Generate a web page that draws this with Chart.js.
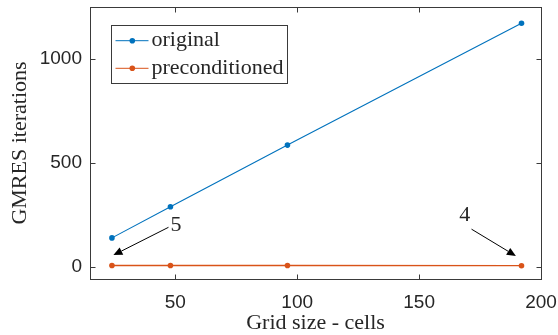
<!DOCTYPE html>
<html><head><meta charset="utf-8">
<script src="https://cdn.jsdelivr.net/npm/chart.js@4"></script>
<style>html,body{margin:0;padding:0;background:#fff}#wrap{width:558px;height:335px}</style>
</head><body><div id="wrap"><canvas id="c" width="558" height="335"></canvas></div>
<script>
// ---- data ----
const gridSizes = [24, 48, 96, 192];
const originalIters = [138, 288, 585, 1172];
const precondIters = [5, 5, 5, 4];
const xTickValues = [50, 100, 150, 200];
const yTickValues = [0, 500, 1000];
const seriesNames = ['original', 'preconditioned'];
const annotationTexts = ['5', '4'];

// ---- annotation geometry (data coordinates) ----
const annotations = [
  { text: annotationTexts[0], tx: 48, ty: 200, align: 'left', from: [47.2, 189], to: [24.6, 55] },
  { text: annotationTexts[1], tx: 171, ty: 248, align: 'right', from: [171.5, 180], to: [189.7, 51] }
];

const BLUE = '#0072BD', ORANGE = '#D95319', AX = '#262626';
const SERIF = '"Liberation Serif", "Times New Roman", serif';
const SANS = '"Liberation Sans", Arial, sans-serif';

const framePlugin = {
  id: 'frame',
  afterDraw(chart) {
    const { ctx, chartArea: a, scales: { x, y } } = chart;
    ctx.save();
    const L = Math.round(a.left) + 0.5, R = Math.round(a.right) + 0.5;
    const T = Math.round(a.top) + 0.5, B = Math.round(a.bottom) + 0.5;
    ctx.strokeStyle = '#3a3a3a'; ctx.lineWidth = 1;
    ctx.strokeRect(L, T, R - L, B - T);
    ctx.beginPath();
    xTickValues.forEach(v => {
      const p = Math.round(x.getPixelForValue(v)) + 0.5;
      ctx.moveTo(p, B); ctx.lineTo(p, B - 5);
      ctx.moveTo(p, T); ctx.lineTo(p, T + 5);
    });
    yTickValues.forEach(v => {
      const p = Math.round(y.getPixelForValue(v)) + 0.5;
      ctx.moveTo(L, p); ctx.lineTo(L + 5, p);
      ctx.moveTo(R, p); ctx.lineTo(R - 5, p);
    });
    ctx.stroke();

    // axis titles
    ctx.fillStyle = AX;
    ctx.font = '22px ' + SERIF;
    ctx.textAlign = 'center'; ctx.textBaseline = 'middle';
    ctx.fillText('Grid size - cells', (a.left + a.right) / 2, 323);
    ctx.save();
    ctx.translate(20, (a.top + a.bottom) / 2);
    ctx.rotate(-Math.PI / 2);
    ctx.fillText('GMRES iterations', 0, 0);
    ctx.restore();

    // legend
    const lx = 111.5, ly = 25.5, lw = 176, lh = 58;
    ctx.fillStyle = '#fff';
    ctx.fillRect(lx, ly, lw, lh);
    ctx.strokeStyle = '#3a3a3a';
    ctx.strokeRect(lx, ly, lw, lh);
    const rows = [[seriesNames[0], BLUE, 40.7], [seriesNames[1], ORANGE, 68.3]];
    rows.forEach(([name, col, ry]) => {
      ctx.strokeStyle = col; ctx.lineWidth = 1;
      ctx.beginPath(); ctx.moveTo(115.5, ry); ctx.lineTo(148.5, ry); ctx.stroke();
      ctx.fillStyle = col;
      ctx.beginPath(); ctx.arc(132.3, ry, 2.8, 0, Math.PI * 2); ctx.fill();
      ctx.fillStyle = AX;
      ctx.font = '22px ' + SERIF;
      ctx.textAlign = 'left'; ctx.textBaseline = 'middle';
      ctx.fillText(name, 151.5, ry);
    });

    // annotations
    annotations.forEach(an => {
      const x1 = x.getPixelForValue(an.from[0]), y1 = y.getPixelForValue(an.from[1]);
      const x2 = x.getPixelForValue(an.to[0]), y2 = y.getPixelForValue(an.to[1]);
      const ang = Math.atan2(y2 - y1, x2 - x1);
      const hl = 9, hw = 4;
      const bx = x2 - hl * Math.cos(ang), by = y2 - hl * Math.sin(ang);
      ctx.strokeStyle = '#000'; ctx.lineWidth = 1;
      ctx.beginPath(); ctx.moveTo(x1, y1); ctx.lineTo(bx, by); ctx.stroke();
      ctx.fillStyle = '#000';
      ctx.beginPath();
      ctx.moveTo(x2, y2);
      ctx.lineTo(bx + hw * Math.sin(ang), by - hw * Math.cos(ang));
      ctx.lineTo(bx - hw * Math.sin(ang), by + hw * Math.cos(ang));
      ctx.closePath(); ctx.fill();
      ctx.fillStyle = AX;
      ctx.font = '22px ' + SERIF;
      ctx.textAlign = an.align; ctx.textBaseline = 'middle';
      ctx.fillText(an.text, x.getPixelForValue(an.tx), y.getPixelForValue(an.ty));
    });
    ctx.restore();
  }
};

new Chart(document.getElementById('c'), {
  type: 'scatter',
  data: {
    datasets: [
      { label: seriesNames[0], data: gridSizes.map((g, i) => ({ x: g, y: originalIters[i] })),
        showLine: true, borderColor: BLUE, backgroundColor: BLUE, borderWidth: 1.1,
        pointRadius: 2.8, pointBorderWidth: 0, pointBackgroundColor: BLUE },
      { label: seriesNames[1], data: gridSizes.map((g, i) => ({ x: g, y: precondIters[i] })),
        showLine: true, borderColor: ORANGE, backgroundColor: ORANGE, borderWidth: 1.3,
        pointRadius: 2.8, pointBorderWidth: 0, pointBackgroundColor: ORANGE }
    ]
  },
  options: {
    responsive: false, animation: false, devicePixelRatio: 1,
    layout: { padding: { top: 7, right: 17, left: 0, bottom: 0 } },
    plugins: { legend: { display: false }, tooltip: { enabled: false } },
    scales: {
      x: {
        type: 'linear', min: 15, max: 200,
        afterBuildTicks: s => { s.ticks = xTickValues.map(v => ({ value: v })); },
        afterFit: s => { s.height = 56; s.paddingLeft = 0; s.paddingRight = 0; },
        grid: { display: false, drawTicks: false }, border: { display: false },
        ticks: { padding: 12, color: AX, font: { family: SANS, size: 19 }, callback: v => String(v) }
      },
      y: {
        type: 'linear', min: -60, max: 1250,
        afterBuildTicks: s => { s.ticks = yTickValues.map(v => ({ value: v })); },
        afterFit: s => { s.width = 90; s.paddingTop = 0; s.paddingBottom = 0; },
        grid: { display: false, drawTicks: false }, border: { display: false },
        ticks: { padding: 8, color: AX, font: { family: SANS, size: 19 }, callback: v => String(v) }
      }
    }
  },
  plugins: [framePlugin]
});
</script></body></html>
